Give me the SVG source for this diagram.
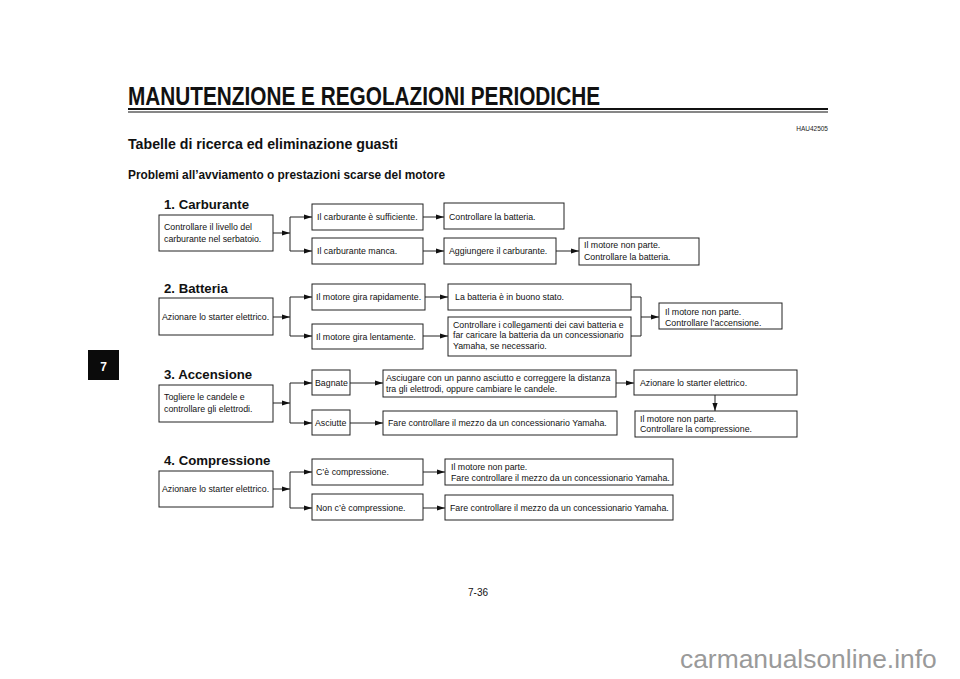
<svg xmlns="http://www.w3.org/2000/svg" width="960" height="679" viewBox="0 0 960 679">
<defs>
<marker id="ah" markerUnits="userSpaceOnUse" markerWidth="9" markerHeight="6" refX="8" refY="3" orient="auto">
<path d="M0,0.4 L8,3 L0,5.6 z" fill="#111"/>
</marker>
</defs>
<style>
.box{fill:#fff;stroke:#222;stroke-width:1}
.t{font-family:"Liberation Sans",Arial,sans-serif;font-size:8.8px;fill:#111}
.h{font-family:"Liberation Sans",Arial,sans-serif;font-weight:bold;font-size:13.2px;fill:#111}
.c line,.c polyline{stroke:#222;stroke-width:1;fill:none}
.c .a{marker-end:url(#ah)}
</style>
<rect width="960" height="679" fill="#fff"/>
<g id="header">
<text x="128" y="105" font-family="'Liberation Sans',Arial,sans-serif" font-weight="bold" font-size="25" textLength="472" lengthAdjust="spacingAndGlyphs" fill="#111">MANUTENZIONE E REGOLAZIONI PERIODICHE</text>
<rect x="128" y="108" width="700" height="2" fill="#111"/>
<rect x="128" y="111.5" width="700" height="1" fill="#111"/>
<text x="828" y="131" text-anchor="end" font-family="'Liberation Sans',Arial,sans-serif" font-size="6.5" fill="#222">HAU42505</text>
<text x="128" y="149" font-family="'Liberation Sans',Arial,sans-serif" font-weight="bold" font-size="15.5" textLength="270" lengthAdjust="spacingAndGlyphs" fill="#111">Tabelle di ricerca ed eliminazione guasti</text>
<text x="128" y="179" font-family="'Liberation Sans',Arial,sans-serif" font-weight="bold" font-size="12.5" textLength="317" lengthAdjust="spacingAndGlyphs" fill="#111">Problemi all’avviamento o prestazioni scarse del motore</text>
</g>
<g id="tab">
<rect x="88" y="350" width="31" height="30" fill="#0b0b0b"/>
<text x="103.5" y="371" text-anchor="middle" font-family="'Liberation Sans',Arial,sans-serif" font-weight="bold" font-size="12" fill="#fff">7</text>
</g>
<g id="titles">
<text class="h" x="164" y="209">1. Carburante</text>
<text class="h" x="164" y="293">2. Batteria</text>
<text class="h" x="164" y="379">3. Accensione</text>
<text class="h" x="164" y="465">4. Compressione</text>
</g>
<g id="connectors" class="c">
<line class="a" x1="273" y1="233" x2="290" y2="233"/>
<line x1="290" y1="217" x2="290" y2="251"/>
<line class="a" x1="290" y1="217" x2="312" y2="217"/>
<line class="a" x1="290" y1="251" x2="312" y2="251"/>
<line class="a" x1="423" y1="217" x2="444" y2="217"/>
<line class="a" x1="423" y1="251" x2="444" y2="251"/>
<line class="a" x1="556" y1="251" x2="579" y2="251"/>
<line class="a" x1="273" y1="317" x2="290" y2="317"/>
<line x1="290" y1="297" x2="290" y2="336"/>
<line class="a" x1="290" y1="297" x2="312" y2="297"/>
<line class="a" x1="290" y1="336" x2="312" y2="336"/>
<line class="a" x1="425" y1="297" x2="448" y2="297"/>
<line class="a" x1="423" y1="336" x2="448" y2="336"/>
<polyline points="631,297 641,297 641,336 631,336"/>
<line class="a" x1="641" y1="317" x2="659" y2="317"/>
<line class="a" x1="273" y1="403" x2="290" y2="403"/>
<line x1="290" y1="383" x2="290" y2="423"/>
<line class="a" x1="290" y1="383" x2="312" y2="383"/>
<line class="a" x1="290" y1="423" x2="312" y2="423"/>
<line class="a" x1="350" y1="383" x2="383" y2="383"/>
<line class="a" x1="350" y1="423" x2="383" y2="423"/>
<line class="a" x1="616" y1="383" x2="634" y2="383"/>
<line class="a" x1="715" y1="395" x2="715" y2="411"/>
<line class="a" x1="273" y1="489" x2="290" y2="489"/>
<line x1="290" y1="472" x2="290" y2="508"/>
<line class="a" x1="290" y1="472" x2="312" y2="472"/>
<line class="a" x1="290" y1="508" x2="312" y2="508"/>
<line class="a" x1="423" y1="472" x2="445" y2="472"/>
<line class="a" x1="423" y1="508" x2="445" y2="508"/>
</g>
<g id="n1a"><rect class="box" x="159" y="215" width="114" height="36"/><text class="t" x="164" y="230">Controllare il livello del</text><text class="t" x="164" y="242">carburante nel serbatoio.</text></g>
<g id="n1b"><rect class="box" x="312" y="204" width="111" height="26"/><text class="t" x="317" y="220">Il carburante è sufficiente.</text></g>
<g id="n1c"><rect class="box" x="312" y="238" width="111" height="26"/><text class="t" x="317" y="254">Il carburante manca.</text></g>
<g id="n1d"><rect class="box" x="444" y="203" width="120" height="26"/><text class="t" x="449" y="219.5">Controllare la batteria.</text></g>
<g id="n1e"><rect class="box" x="444" y="238" width="112" height="26"/><text class="t" x="449" y="254">Aggiungere il carburante.</text></g>
<g id="n1f"><rect class="box" x="579" y="238" width="120" height="27"/><text class="t" x="584" y="248">Il motore non parte.</text><text class="t" x="584" y="259.5">Controllare la batteria.</text></g>
<g id="n2a"><rect class="box" x="159" y="298" width="114" height="37"/><text class="t" x="162" y="320">Azionare lo starter elettrico.</text></g>
<g id="n2b"><rect class="box" x="312" y="284" width="113" height="26"/><text class="t" x="316" y="300">Il motore gira rapidamente.</text></g>
<g id="n2c"><rect class="box" x="312" y="324" width="111" height="25"/><text class="t" x="316" y="339.5">Il motore gira lentamente.</text></g>
<g id="n2d"><rect class="box" x="448" y="284" width="183" height="26"/><text class="t" x="455" y="300">La batteria è in buono stato.</text></g>
<g id="n2e"><rect class="box" x="448" y="317" width="183" height="39"/><text class="t" x="453" y="327.5">Controllare i collegamenti dei cavi batteria e</text><text class="t" x="453" y="338">far caricare la batteria da un concessionario</text><text class="t" x="453" y="348.5">Yamaha, se necessario.</text></g>
<g id="n2f"><rect class="box" x="659" y="303" width="123" height="26"/><text class="t" x="665" y="315">Il motore non parte.</text><text class="t" x="665" y="325.5">Controllare l’accensione.</text></g>
<g id="n3a"><rect class="box" x="159" y="385" width="114" height="37"/><text class="t" x="164" y="400">Togliere le candele e</text><text class="t" x="164" y="411.5">controllare gli elettrodi.</text></g>
<g id="n3b"><rect class="box" x="312" y="370" width="38" height="25"/><text class="t" x="315" y="386">Bagnate</text></g>
<g id="n3c"><rect class="box" x="312" y="410" width="38" height="25"/><text class="t" x="315" y="426">Asciutte</text></g>
<g id="n3d"><rect class="box" x="383" y="370" width="233" height="27"/><text class="t" x="386" y="381">Asciugare con un panno asciutto e correggere la distanza</text><text class="t" x="386" y="391.5">tra gli elettrodi, oppure cambiare le candele.</text></g>
<g id="n3e"><rect class="box" x="383" y="411" width="234" height="24"/><text class="t" x="388" y="426">Fare controllare il mezzo da un concessionario Yamaha.</text></g>
<g id="n3f"><rect class="box" x="634" y="370" width="163" height="25"/><text class="t" x="640" y="386">Azionare lo starter elettrico.</text></g>
<g id="n3g"><rect class="box" x="635" y="411" width="162" height="26"/><text class="t" x="640" y="421.5">Il motore non parte.</text><text class="t" x="640" y="432">Controllare la compressione.</text></g>
<g id="n4a"><rect class="box" x="159" y="471" width="114" height="36"/><text class="t" x="162" y="492">Azionare lo starter elettrico.</text></g>
<g id="n4b"><rect class="box" x="312" y="459" width="111" height="26"/><text class="t" x="316" y="475">C’è compressione.</text></g>
<g id="n4c"><rect class="box" x="312" y="494" width="111" height="26"/><text class="t" x="316" y="511">Non c’è compressione.</text></g>
<g id="n4d"><rect class="box" x="445" y="459" width="228" height="26"/><text class="t" x="451" y="470">Il motore non parte.</text><text class="t" x="451" y="480.5">Fare controllare il mezzo da un concessionario Yamaha.</text></g>
<g id="n4e"><rect class="box" x="445" y="495" width="228" height="25"/><text class="t" x="450" y="511">Fare controllare il mezzo da un concessionario Yamaha.</text></g>
<g id="footer">
<text x="478" y="596" text-anchor="middle" font-family="'Liberation Sans',Arial,sans-serif" font-size="10" fill="#111">7-36</text>
<text x="680" y="668" font-family="'Liberation Sans',Arial,sans-serif" font-size="26.4" fill="#9a9a9a">carmanualsonline.info</text>
</g>
</svg>
